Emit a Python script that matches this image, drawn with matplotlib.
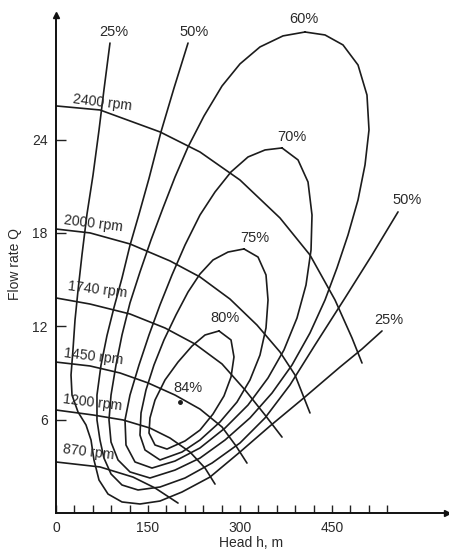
import matplotlib.pyplot as plt

plt.rcParams['font.family'] = ['Liberation Sans', 'DejaVu Sans']

# speed curves: head h (m) vs flow rate Q
rpm_labels = ["2400 rpm", "2000 rpm", "1740 rpm", "1450 rpm", "1200 rpm", "870 rpm"]
rpm2400_h = [0, 71.7, 169.5, 234.7, 299.9, 365.1, 414.0, 454.8, 482.5, 498.8]
rpm2400_q = [26.16, 25.90, 24.49, 23.20, 21.40, 18.96, 16.58, 13.69, 11.25, 9.64]
rpm2000_h = [0, 55.4, 120.6, 185.8, 234.7, 283.6, 327.6, 365.1, 389.6, 414.0]
rpm2000_q = [18.25, 18.00, 17.29, 16.20, 15.17, 13.75, 12.08, 10.35, 8.87, 6.43]
rpm1740_h = [0, 55.4, 120.6, 177.7, 226.6, 270.6, 308.1, 340.7, 368.4]
rpm1740_q = [13.82, 13.43, 12.79, 11.89, 10.86, 9.58, 7.91, 6.30, 4.88]
rpm1450_h = [0, 55.4, 104.3, 150.0, 194.0, 234.7, 270.6, 293.4, 311.3]
rpm1450_q = [9.70, 9.45, 9.00, 8.36, 7.58, 6.68, 5.53, 4.31, 3.21]
rpm1200_h = [0, 60.3, 109.2, 153.2, 185.8, 218.4, 242.9, 259.2]
rpm1200_q = [6.62, 6.30, 5.98, 5.46, 4.82, 3.92, 2.89, 1.86]
rpm870_h = [0, 71.7, 125.5, 161.4, 198.9]
rpm870_q = [3.28, 2.96, 2.31, 1.61, 0.64]

# efficiency contours (%)
eff25_h = [88.0, 78.2, 70.1, 60.3, 50.5, 42.4, 35.9, 31.0, 27.7, 24.5, 26.1, 35.9, 48.9,
           57.1, 61.9, 70.1, 84.8, 107.6, 136.9, 169.5, 205.4, 251.0, 299.9, 348.8,
           405.9, 462.9, 498.8, 531.4]
eff25_q = [30.2, 27.2, 24.6, 21.7, 19.2, 16.6, 14.3, 12.4, 10.5, 8.87, 7.58, 6.49, 5.66,
           4.69, 3.41, 2.12, 1.22, 0.71, 0.58, 0.77, 1.35, 2.31, 3.92, 5.59,
           7.46, 9.38, 10.54, 11.70]
eff50_h = [215.2, 192.3, 171.2, 151.6, 135.3, 120.6, 107.6, 94.5, 83.1, 73.4, 66.8, 66.8,
           71.7, 78.2, 89.7, 107.6, 133.7, 169.5, 210.3, 254.3, 299.9, 340.7, 381.4,
           422.2, 471.1, 515.1, 557.5]
eff50_q = [30.2, 27.3, 24.5, 21.5, 19.2, 17.2, 15.1, 13.2, 11.4, 9.51, 7.58, 5.98,
           4.69, 3.53, 2.51, 1.80, 1.48, 1.67, 2.25, 3.21, 4.50, 6.11, 8.23,
           10.80, 13.82, 16.58, 19.35]
eff60_h = [405.9, 370.0, 332.5, 299.9, 270.6, 241.2, 215.2, 194.0, 174.4, 154.9, 136.9,
           120.6, 107.6, 97.8, 89.7, 86.4, 89.7, 101.1, 120.6, 153.2,
           194.0, 234.7, 275.5, 316.2, 352.1, 384.7, 414.0, 438.5, 458.0, 476.0,
           492.3, 503.7, 510.2, 506.9, 492.3, 467.8, 438.5, 405.9]
eff60_q = [30.91, 30.66, 29.95, 28.86, 27.44, 25.51, 23.52, 21.59, 19.60, 17.55, 15.49,
           13.50, 11.44, 9.51, 7.58, 5.98, 4.56, 3.41, 2.64, 2.25,
           2.76, 3.53, 4.69, 6.11, 7.71, 9.51, 11.57, 13.69, 15.75, 17.87,
           20.12, 22.37, 24.62, 26.86, 28.79, 30.08, 30.72, 30.91]
eff70_h = [368.4, 340.7, 313.0, 285.3, 259.2, 234.7, 210.3, 189.1, 169.5, 151.6, 135.3,
           120.6, 112.5, 114.1, 128.8, 156.5,
           194.0, 234.7, 275.5, 313.0, 345.6, 371.6, 392.8, 407.5, 415.7, 417.3,
           410.8, 394.5, 368.4]
eff70_q = [23.46, 23.33, 22.88, 21.92, 20.63, 19.15, 17.22, 15.30, 13.37, 11.44, 9.51,
           7.58, 5.98, 4.37, 3.28, 2.89,
           3.34, 4.18, 5.46, 6.94, 8.68, 10.48, 12.53, 14.65, 16.90, 19.15,
           21.27, 22.69, 23.46]
eff75_h = [306.4, 280.4, 255.9, 234.7, 215.2, 195.6, 176.0, 159.7, 146.7, 138.6, 136.9,
           145.1, 169.5,
           205.4, 234.7, 267.3, 295.0, 316.2, 332.5, 342.3, 345.6, 342.3, 329.3, 306.4]
eff75_q = [16.97, 16.77, 16.26, 15.36, 14.20, 12.73, 11.12, 9.51, 7.91, 6.43, 5.01,
           4.05, 3.41,
           3.92, 4.69, 5.85, 7.13, 8.55, 10.15, 11.89, 13.69, 15.30, 16.45, 16.97]
eff80_h = [265.7, 242.9, 221.7, 198.9, 177.7, 161.4, 153.2, 151.6, 161.4, 180.9,
           210.3, 234.7, 255.9, 273.8, 285.3, 290.1, 285.3, 265.7]
eff80_q = [11.70, 11.44, 10.73, 9.70, 8.55, 7.26, 6.11, 5.14, 4.37, 4.11,
           4.63, 5.33, 6.36, 7.52, 8.74, 10.03, 11.12, 11.70]

# best efficiency point
bep_h, bep_q, bep_eff = 202.1, 7.13, 84

x_ticks = [0, 150, 300, 450]
y_ticks = [6, 12, 18, 24]

fig = plt.figure(figsize=(4.49, 5.53), dpi=100)
ax = fig.add_axes([0.1247, 0.0723, 0.8708, 0.9005])

ink = '#1c1c1c'
line_kw = dict(color=ink, lw=1.2, solid_capstyle='round', solid_joinstyle='round')

rpm_curves = [(rpm2400_h, rpm2400_q), (rpm2000_h, rpm2000_q), (rpm1740_h, rpm1740_q),
              (rpm1450_h, rpm1450_q), (rpm1200_h, rpm1200_q), (rpm870_h, rpm870_q)]
for h, q in rpm_curves:
    ax.plot(h, q, **line_kw)

for h, q in [(eff25_h, eff25_q), (eff50_h, eff50_q), (eff60_h, eff60_q),
             (eff70_h, eff70_q), (eff75_h, eff75_q), (eff80_h, eff80_q)]:
    ax.plot(h, q, **line_kw)

ax.plot(bep_h, bep_q, 'o', color=ink, ms=2.5)

# speed labels sit just above the start of each curve
rpm_label_pos = [(26.1, 26.4), (11.4, 18.57), (17.9, 14.33), (11.4, 10.03), (9.8, 7.07), (9.8, 3.92)]
for text, (x, y) in zip(rpm_labels, rpm_label_pos):
    ax.text(x, y, text, fontsize=10.2, ha='left', va='center', rotation=-7, color='#2a2a2a')

# efficiency labels
eff_label_pos = [("25%", 94.5, 30.91), ("50%", 225.0, 30.91), ("60%", 404.2, 31.75),
                 ("70%", 384.7, 24.17), ("75%", 324.4, 17.67), ("80%", 275.5, 12.53),
                 ("50%", 572.1, 20.12), ("25%", 542.8, 12.40)]
for text, x, y in eff_label_pos:
    ax.text(x, y, text, fontsize=10.5, ha='center', va='center', color='#2a2a2a')
ax.text(215.2, 8.03, f"{bep_eff}%", fontsize=10.5, ha='center', va='center', color='#2a2a2a')

ax.set_xlim(0, 637.3)
ax.set_ylim(0, 32.0)
for side in ['top', 'right']:
    ax.spines[side].set_visible(False)
for side in ['left', 'bottom']:
    ax.spines[side].set_linewidth(1.4)
    ax.spines[side].set_color('#111')

# arrow heads at the ends of the axes
ax.plot(0, 1, '^', color='#111', ms=5, transform=ax.transAxes, clip_on=False)
ax.plot(1, 0, '>', color='#111', ms=5, transform=ax.transAxes, clip_on=False)

ax.set_xticks(x_ticks)
ax.set_xticks(list(range(30, 541, 30)), minor=True)
ax.set_yticks(y_ticks)
ax.tick_params(axis='both', which='both', direction='in', length=6, width=1.0,
               color='#222', labelsize=10, labelcolor='#2a2a2a', pad=6)
ax.tick_params(axis='y', which='major', length=7)

ax.set_xlabel("Head h, m", fontsize=10, color='#2a2a2a', va='center')
ax.xaxis.set_label_coords(0.5, -0.060)
ax.set_ylabel("Flow rate Q", fontsize=10, color='#2a2a2a', va='center')
ax.yaxis.set_label_coords(-0.105, 0.5)

fig.savefig("out.png", dpi=100)
